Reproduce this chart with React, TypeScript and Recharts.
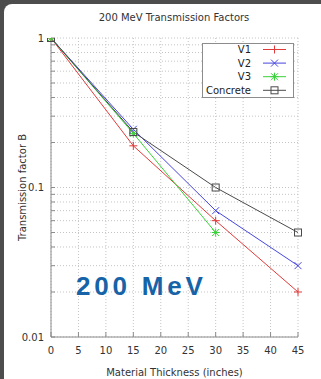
import { CartesianGrid, Legend, Line, LineChart, XAxis, YAxis } from "recharts";

// Values (log scale)
const thickness = [0, 15, 30, 45];
const v1 = [1, 0.19, 0.06, 0.02];
const v2 = [1, 0.245, 0.07, 0.03];
const v3 = [1, 0.23, 0.05, null];
const concrete = [1, 0.235, 0.1, 0.05];

const xTicks = [0, 5, 10, 15, 20, 25, 30, 35, 40, 45];
const yTicks = [
  0.01, 0.02, 0.03, 0.04, 0.05, 0.06, 0.07, 0.08, 0.09,
  0.1, 0.2, 0.3, 0.4, 0.5, 0.6, 0.7, 0.8, 0.9, 1,
];
const yTickLabels = ["0.01", "0.1", "1"];

const data = thickness.map((x, i) => ({
  x,
  v1: v1[i],
  v2: v2[i],
  v3: v3[i],
  concrete: concrete[i],
}));

type MarkerKind = "plus" | "cross" | "star" | "square";

const SERIES: { key: string; name: string; color: string; marker: MarkerKind }[] = [
  { key: "v1", name: "V1", color: "#e03a3a", marker: "plus" },
  { key: "v2", name: "V2", color: "#4646de", marker: "cross" },
  { key: "v3", name: "V3", color: "#3ad23a", marker: "star" },
  { key: "concrete", name: "Concrete", color: "#4a4a4a", marker: "square" },
];

const FONT = "DejaVu Sans, Verdana, sans-serif";
const FRAME = "#8c8c8c";

function Marker({ kind, cx, cy, color }: { kind: MarkerKind; cx: number; cy: number; color: string }) {
  const plus = `M${cx - 4},${cy}h8M${cx},${cy - 4}v8`;
  const cross = `M${cx - 3.5},${cy - 3.5}l7,7M${cx - 3.5},${cy + 3.5}l7,-7`;
  if (kind === "square") {
    return <rect x={cx - 3.5} y={cy - 3.5} width={7} height={7} fill="none" stroke={color} strokeWidth={1} />;
  }
  const d = kind === "plus" ? plus : kind === "cross" ? cross : plus + cross;
  return <path d={d} stroke={color} strokeWidth={1} fill="none" />;
}

function renderLegend() {
  return (
    <svg width={92} height={55} style={{ display: "block" }}>
      <rect x={0.5} y={0.5} width={91} height={54} fill="#fff" stroke={FRAME} />
      {SERIES.map((s, i) => {
        const y = 6.5 + i * 13.6;
        return (
          <g key={s.key}>
            <text x={49} y={y} dy="0.35em" textAnchor="end" fontSize={10} fontFamily={FONT} fill="#222">
              {s.name}
            </text>
            <line x1={61} x2={84} y1={y} y2={y} stroke={s.color} />
            <Marker kind={s.marker} cx={72.5} cy={y} color={s.color} />
          </g>
        );
      })}
    </svg>
  );
}

const tickStyle = { fontSize: 10, fill: "#333", fontFamily: FONT };

export default function App() {
  return (
    <div
      style={{
        position: "absolute",
        left: 0,
        top: 0,
        width: 321,
        height: 379,
        background: "#4d4d4d",
        overflow: "hidden",
      }}
    >
      <div
        style={{
          position: "absolute",
          left: 4,
          top: 4,
          right: 0,
          bottom: 0,
          background: "#fff",
          borderTopLeftRadius: 8,
        }}
      />
      <div
        style={{
          position: "absolute",
          left: 0,
          top: 11,
          width: 348,
          textAlign: "center",
          fontFamily: FONT,
          fontSize: 10,
          lineHeight: "14px",
          color: "#333",
        }}
      >
        200 MeV Transmission Factors
      </div>
      <div style={{ position: "absolute", left: 0, top: 0 }}>
        <LineChart width={321} height={379} data={data} margin={{ top: 38, right: 23, bottom: 0, left: 0 }}>
          <CartesianGrid stroke="#c4c4c4" strokeDasharray="1 2" />
          <XAxis
            dataKey="x"
            type="number"
            domain={[0, 45]}
            ticks={xTicks}
            interval={0}
            height={42}
            tickSize={-5}
            tickMargin={15}
            tick={tickStyle}
            axisLine={{ stroke: FRAME }}
            tickLine={{ stroke: FRAME }}
            label={{
              value: "Material Thickness (inches)",
              position: "insideBottom",
              offset: 3,
              fontSize: 10,
              fill: "#333",
              fontFamily: FONT,
            }}
          />
          <XAxis
            xAxisId="top"
            orientation="top"
            type="number"
            domain={[0, 45]}
            ticks={xTicks}
            interval={0}
            height={0}
            tickSize={-5}
            tickFormatter={() => ""}
            axisLine={{ stroke: FRAME }}
            tickLine={{ stroke: FRAME }}
          />
          <YAxis
            type="number"
            scale="log"
            domain={[0.01, 1]}
            allowDataOverflow
            ticks={yTicks}
            interval={0}
            width={51}
            tickSize={-4}
            tickMargin={11}
            tick={tickStyle}
            tickFormatter={(v: number) => yTickLabels.find((l) => Number(l) === v) ?? ""}
            axisLine={{ stroke: FRAME }}
            tickLine={{ stroke: FRAME }}
            label={{
              value: "Transmission factor B",
              angle: -90,
              position: "insideLeft",
              offset: 22,
              fontSize: 10,
              fill: "#333",
              fontFamily: FONT,
              style: { textAnchor: "middle" },
            }}
          />
          <YAxis
            yAxisId="right"
            orientation="right"
            type="number"
            scale="log"
            domain={[0.01, 1]}
            allowDataOverflow
            ticks={yTicks}
            interval={0}
            width={0}
            tickSize={-4}
            tickFormatter={() => ""}
            axisLine={{ stroke: FRAME }}
            tickLine={{ stroke: FRAME }}
          />
          {SERIES.map((s) => (
            <Line
              key={s.key}
              dataKey={s.key}
              name={s.name}
              stroke={s.color}
              strokeWidth={1}
              connectNulls={false}
              isAnimationActive={false}
              dot={(p: any) =>
                p.cx == null || p.cy == null || p.value == null ? (
                  <g key={`${s.key}-${p.index}`} />
                ) : (
                  <g key={`${s.key}-${p.index}`}>
                    <Marker kind={s.marker} cx={p.cx} cy={p.cy} color={s.color} />
                  </g>
                )
              }
              activeDot={false}
            />
          ))}
          <Legend
            layout="vertical"
            align="center"
            verticalAlign="middle"
            content={renderLegend}
            wrapperStyle={{ left: 202, top: 43, width: 92, height: 55 }}
          />
        </LineChart>
      </div>
      <div
        style={{
          position: "absolute",
          left: 76,
          top: 271,
          fontFamily: "Liberation Sans, Arial, sans-serif",
          fontWeight: 700,
          fontSize: 26,
          letterSpacing: 3.8,
          lineHeight: "30px",
          color: "#1663a8",
          whiteSpace: "nowrap",
        }}
      >
        200 MeV
      </div>
    </div>
  );
}
